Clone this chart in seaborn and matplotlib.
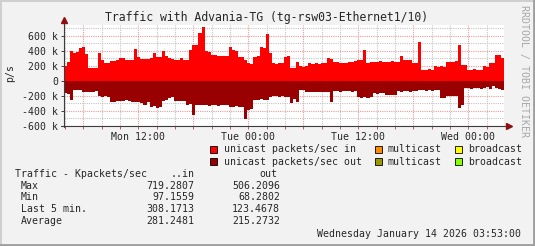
import numpy as np
import pandas as pd
import matplotlib
matplotlib.use("Agg")
import matplotlib.pyplot as plt
import seaborn as sns
from matplotlib.ticker import MultipleLocator, FuncFormatter
from matplotlib.patches import Rectangle
from matplotlib.lines import Line2D

# ---------------- data ----------------
title = "Traffic with Advania-TG (tg-rsw03-Ethernet1/10)"
start_hour = 3 + 53 / 60.0          # Mon 03:53 (hours since Mon 00:00)
step_hours = 20 / 60.0              # 20-minute samples

in_kpps = [190, 250, 390, 370, 380, 440, 455, 360, 175, 165, 170, 370, 280, 240, 235, 265,
           260, 270, 305, 300, 275, 280, 270, 420, 320, 290, 295, 285, 300, 370, 320, 310,
           390, 325, 300, 295, 275, 280, 300, 270, 280, 410, 470, 480, 640, 719, 395, 380,
           340, 345, 330, 335, 325, 330, 455, 410, 400, 320, 310, 275, 235, 225, 320, 330,
           450, 440, 620, 365, 230, 225, 235, 230, 320, 330, 165, 170, 255, 190, 185, 195,
           230, 225, 235, 225, 240, 230, 300, 295, 255, 250, 235, 230, 240, 255, 250, 260,
           275, 280, 410, 240, 245, 255, 250, 260, 255, 250, 255, 265, 250, 255, 330, 280,
           275, 270, 235, 230, 520, 145, 140, 150, 145, 190, 185, 195, 180, 250, 255, 250,
           260, 475, 210, 205, 145, 140, 150, 140, 145, 190, 185, 230, 235, 340, 345, 308]

out_kpps = [165, 175, 255, 125, 120, 130, 150, 145, 155, 150, 140, 210, 215, 205, 220, 285,
            280, 270, 265, 275, 260, 270, 280, 290, 285, 300, 325, 290, 350, 340, 370, 345,
            265, 260, 225, 215, 265, 275, 270, 265, 320, 315, 455, 330, 325, 325, 330, 335,
            325, 330, 335, 320, 325, 330, 345, 350, 340, 345, 350, 506, 390, 380, 260, 255,
            250, 260, 255, 215, 205, 210, 215, 210, 215, 220, 300, 240, 290, 125, 120, 150,
            155, 145, 150, 155, 145, 150, 145, 280, 140, 135, 145, 140, 140, 135, 145, 140,
            220, 225, 215, 230, 215, 165, 175, 170, 170, 190, 185, 195, 185, 140, 145, 135,
            140, 145, 140, 135, 130, 125, 135, 130, 135, 125, 130, 235, 230, 210, 205, 210,
            210, 369, 330, 100, 95, 110, 100, 95, 105, 100, 90, 110, 68, 100, 105, 123]

time_labels = {12: "Mon 12:00", 24: "Tue 00:00", 36: "Tue 12:00", 48: "Wed 00:00"}

legend_row1 = ["unicast packets/sec in", "multicast", "broadcast"]
legend_row2 = ["unicast packets/sec out", "multicast", "broadcast"]
legend_colors1 = ["#ff0000", "#ff8c00", "#ffff00"]
legend_colors2 = ["#990000", "#999900", "#88ff00"]

stats_header = "Traffic - Kpackets/sec"
stats_labels = ["Max", "Min", "Last 5 min.", "Average"]
stats_in = ["719.2807", "97.1559", "308.1713", "281.2481"]
stats_out = ["506.2096", "68.2802", "123.4678", "215.2732"]
timestamp = "Wednesday January 14 2026 03:53:00"
watermark = "RRDTOOL / TOBI OETIKER"
y_label = "p/s"

# ---------------- style ----------------
sns.set_theme(style="white")
mono = ["DejaVu Sans Mono"]
plt.rcParams["font.family"] = mono

W, H = 535, 246
BG = "#f2f2f2"
fig = plt.figure(figsize=(W / 100, H / 100), dpi=100, facecolor=BG)


def fx(px):
    return px / W


def fy(py):
    return 1 - py / H


n = len(in_kpps)
x_edges = start_hour + step_hours * np.arange(n + 1)
df = pd.DataFrame({
    "hour": x_edges,
    "inbound": np.append(in_kpps, in_kpps[-1]) * 1000.0,
    "outbound": -np.append(out_kpps, out_kpps[-1]) * 1000.0,
})

ax_left, ax_top, ax_right, ax_bottom = 64, 25.0, 504, 125.7
ax = fig.add_axes([fx(ax_left), fy(ax_bottom), (ax_right - ax_left) / W, (ax_bottom - ax_top) / H])
ax.set_facecolor("white")

ax.fill_between(df["hour"], 0, df["inbound"], step="post", color="#ff0000", lw=0, zorder=2)
ax.fill_between(df["hour"], 0, df["outbound"], step="post", color="#990000", lw=0, zorder=2)

ax.set_xlim(start_hour, start_hour + 48)
ax.set_ylim(-600000, 742600)

# grids
ax.yaxis.set_major_locator(MultipleLocator(200000))
ax.yaxis.set_minor_locator(MultipleLocator(100000))
ax.xaxis.set_major_locator(MultipleLocator(6))
ax.xaxis.set_minor_locator(MultipleLocator(2))
ax.set_axisbelow(True)
ax.grid(which="minor", color="#c4c4c4", linestyle=(0, (1, 1)), linewidth=0.8)
ax.grid(which="major", color="#eb9a9a", linestyle=(0, (1, 1)), linewidth=0.8)


def yfmt(v, pos):
    if abs(v) < 1:
        return "0"
    return f"{int(round(v / 1000))} k"


def xfmt(v, pos):
    h = int(round(v))
    return time_labels.get(h, "")


ax.yaxis.set_major_formatter(FuncFormatter(yfmt))
ax.xaxis.set_major_formatter(FuncFormatter(xfmt))
ax.tick_params(axis="y", which="major", length=2.2, width=0.7, color="#404040",
               pad=2.0, labelsize=7.1, direction="out", left=True)
ax.tick_params(axis="y", which="minor", length=0)
ax.tick_params(axis="x", which="both", length=2.2, width=0.7, color="#b06060",
               pad=2.4, labelsize=7.1, direction="out", bottom=True)
for s in ax.spines.values():
    s.set_visible(False)

# axis lines with arrows
axis_col = "#3c3c3c"
arrow_col = "#8b1010"
ax.plot([-0.006, 1.008], [0, 0], transform=ax.transAxes, color=axis_col, lw=0.8, clip_on=False, zorder=5)
ax.plot([0, 0], [-0.01, 1.045], transform=ax.transAxes, color=axis_col, lw=0.8, clip_on=False, zorder=5)
ax.plot([1.012], [0], transform=ax.transAxes, marker=">", color=arrow_col, ms=4, clip_on=False, zorder=6)
ax.plot([0], [1.05], transform=ax.transAxes, marker="^", color=arrow_col, ms=4, clip_on=False, zorder=6)

# y label
fig.text(fx(10.5), fy(73), y_label, rotation=90, ha="center", va="center", fontsize=7.1)

# title
fig.text(fx(267), fy(17.5), title, ha="center", va="center", fontsize=8.3)

# watermark
fig.text(fx(523.7), fy(71), watermark, rotation=270, ha="center", va="center",
         fontsize=7.1, color="#a8a8a8")

# legend
sq = 7.3
for row_y, labels, colors in [(149.5, legend_row1, legend_colors1), (161.7, legend_row2, legend_colors2)]:
    for sx, tx, lab, col in zip([210, 374.5, 454.5], [223.5, 387.7, 467.7], labels, colors):
        fig.patches.append(Rectangle((fx(sx), fy(row_y + sq / 2)), sq / W, sq / H,
                                     transform=fig.transFigure, facecolor=col,
                                     edgecolor="black", lw=0.6))
        fig.text(fx(tx), fy(row_y), lab, ha="left", va="center", fontsize=7.1)

# stats table
fig.text(fx(15), fy(174), stats_header, ha="left", va="center", fontsize=7.1)
fig.text(fx(194.3), fy(174), "..in", ha="right", va="center", fontsize=7.1)
fig.text(fx(277.3), fy(174), "out", ha="right", va="center", fontsize=7.1)
for yy, lab, vi, vo in zip([185.7, 197.5, 209.3, 221.5], stats_labels, stats_in, stats_out):
    fig.text(fx(20.7), fy(yy), lab, ha="left", va="center", fontsize=7.1)
    fig.text(fx(194.3), fy(yy), vi, ha="right", va="center", fontsize=7.1)
    fig.text(fx(280), fy(yy), vo, ha="right", va="center", fontsize=7.1)

fig.text(fx(521), fy(234), timestamp, ha="right", va="center", fontsize=7.1)

# 3D frame
fig.add_artist(Line2D([0, 1], [1 - 0.5 / H, 1 - 0.5 / H], transform=fig.transFigure, color="#cfcfcf", lw=1.4))
fig.add_artist(Line2D([0.5 / W, 0.5 / W], [0, 1], transform=fig.transFigure, color="#cfcfcf", lw=1.4))
fig.add_artist(Line2D([0, 1], [1.0 / H, 1.0 / H], transform=fig.transFigure, color="#9e9e9e", lw=2.0))
fig.add_artist(Line2D([1 - 1.0 / W, 1 - 1.0 / W], [0, 1], transform=fig.transFigure, color="#9e9e9e", lw=2.0))

fig.savefig("out.png", dpi=100, facecolor=BG)
